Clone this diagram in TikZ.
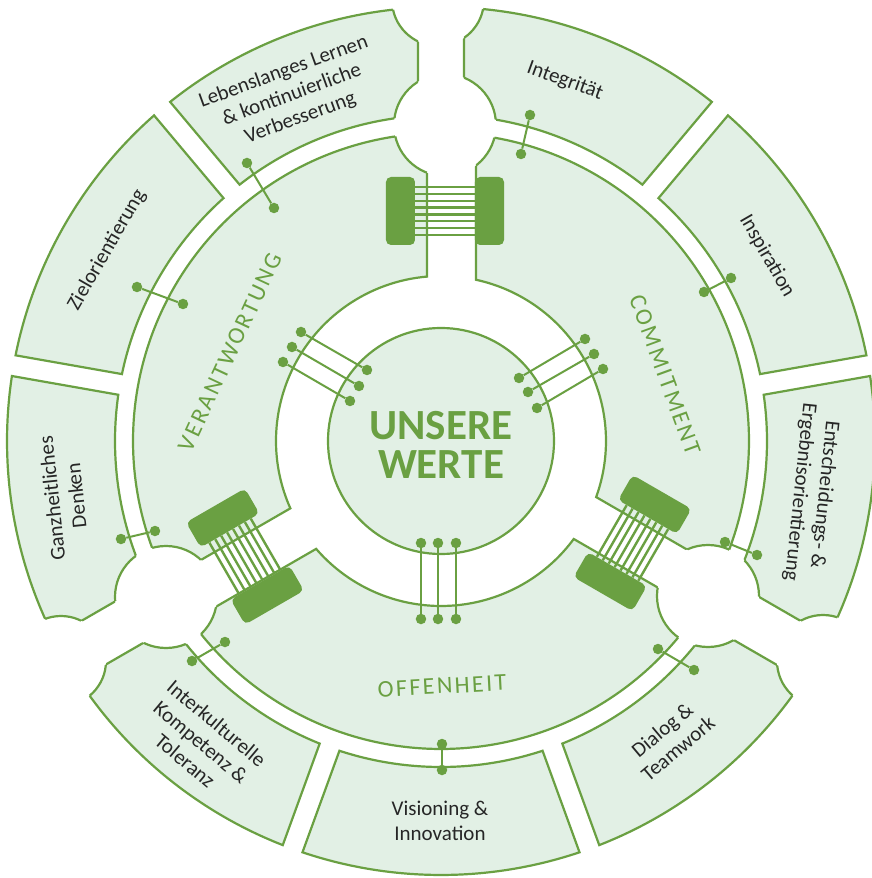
\documentclass[tikz,border=0pt]{standalone}
\usepackage{fontspec}
\setmainfont{Carlito}
\newfontfamily\segfont[LetterSpace=10]{Carlito}
\usetikzlibrary{calc}
\definecolor{grn}{HTML}{6AA042}
\definecolor{lgrn}{HTML}{E2F0E5}
\definecolor{txt}{HTML}{262626}
% ring segment: #1 inner r, #2 outer r, #3 cw gap angle, #4 offset, #5 ccw gap angle, #6 offset
\newcommand\segpath[6]{({#5+asin(#6/#2)}:#2) arc[start angle={#5+asin(#6/#2)}, end angle={#3+asin(#4/#2)}, radius=#2] -- ({#3+asin(#4/#1)}:#1) arc[start angle={#3+asin(#4/#1)}, end angle={#5+asin(#6/#1)}, radius=#1] -- cycle}
\newcommand\SegA{\segpath{326}{434}{50}{10.5}{90}{-23}}
\newcommand\SegB{\segpath{326}{434}{10}{10.5}{50}{-10.5}}
\newcommand\SegC{\segpath{326}{434}{-30}{24}{10}{-10.5}}
\newcommand\SegD{\segpath{326}{434}{-70}{10.5}{-30}{-26}}
\newcommand\SegE{\segpath{326}{434}{-110}{10.5}{-70}{-10.5}}
\newcommand\SegF{\segpath{326}{434}{-150}{26}{-110}{-10.5}}
\newcommand\SegG{\segpath{326}{434}{170}{10.5}{210}{-24}}
\newcommand\SegH{\segpath{326}{434}{130}{10.5}{170}{-10.5}}
\newcommand\SegI{\segpath{326}{434}{90}{23}{130}{-10.5}}
\newcommand\SegJ{\segpath{165}{308}{-30}{29}{90}{-35}}
\newcommand\SegK{\segpath{165}{308}{-150}{31}{-30}{-18.5}}
\newcommand\SegL{\segpath{165}{308}{90}{14}{210}{-17}}
\newcommand\holeset{(4,316) circle[radius=51] (-275,-156) circle[radius=51] (267,-155) circle[radius=51] (-3,441) circle[radius=46] (-380,-220) circle[radius=45] (382,-220) circle[radius=46]}
\newcommand\holeclip[1]{\begin{scope}\clip #1; \draw[holeline] \holeset; \end{scope}}
\begin{document}
\begin{tikzpicture}[x=1pt,y=1pt,
  seg/.style={fill=lgrn, draw=grn, line width=2.2pt},
  holeline/.style={draw=grn, line width=2.2pt},
  conn/.style={draw=grn, line width=2pt},
  pdot/.style={circle, fill=grn, draw=none, inner sep=0pt, minimum size=10.5pt},
  blk/.style={fill=grn, draw=none, rounded corners=5pt, inner sep=0pt, minimum width=29pt, minimum height=68pt},
  plugline/.style={draw=grn, line width=2.4pt},
  lbl/.style={text=txt, font=\fontsize{21}{24.5}\selectfont, align=center, inner sep=0pt},
  seglbl/.style={text=grn, font=\segfont\fontsize{24}{28}\selectfont, inner sep=0pt},
  core/.style={circle, fill=lgrn, draw=grn, line width=2.2pt, minimum size=226pt, inner sep=0pt}]
\useasboundingbox (-441,-437) rectangle (431,441);
\fill[white] (-441,-437) rectangle (431,441);
% segments
\filldraw[seg] \SegA; \filldraw[seg] \SegB; \filldraw[seg] \SegC;
\filldraw[seg] \SegD; \filldraw[seg] \SegE; \filldraw[seg] \SegF;
\filldraw[seg] \SegG; \filldraw[seg] \SegH; \filldraw[seg] \SegI;
\filldraw[seg] \SegJ; \filldraw[seg] \SegK; \filldraw[seg] \SegL;
% holes
\fill[white] \holeset;
\holeclip{\SegA}\holeclip{\SegB}\holeclip{\SegC}\holeclip{\SegD}
\holeclip{\SegE}\holeclip{\SegF}\holeclip{\SegG}\holeclip{\SegH}
\holeclip{\SegI}\holeclip{\SegJ}\holeclip{\SegK}\holeclip{\SegL}
% core
\node[core] (core) at (0,0) {};
\node[text=grn, font=\bfseries\fontsize{43}{39}\selectfont, align=center, inner sep=0pt] (tCore) at (0,-4) {UNSERE\\WERTE};
% plugs
\node[blk] (pTa) at (-40.5,230) {};
\node[blk] (pTb) at (48.5,230) {};
\node[blk, rotate=120] (pLa) at (-173.75,-154.04) {};
\node[blk, rotate=120] (pLb) at (-218.25,-76.96) {};
\node[blk, rotate=-120] (pRa) at (213.75,-63.46) {};
\node[blk, rotate=-120] (pRb) at (169.25,-140.54) {};
\foreach \p in {T,L,R}{
  \foreach \t in {0.15,0.25,0.35,0.45,0.55,0.65,0.75,0.85}{
    \draw[plugline] ($(p\p a.north east)!\t!(p\p a.south east)$) -- ($(p\p b.north west)!\t!(p\p b.south west)$);
  }
}
% outer connectors
\node[pdot] (c1a) at (-194,278) {}; \node[pdot] (c1b) at (-167,233) {};
\node[pdot] (c2a) at (-304,154) {}; \node[pdot] (c2b) at (-258,137) {};
\node[pdot] (c3a) at (89,326) {};   \node[pdot] (c3b) at (80,287) {};
\node[pdot] (c4a) at (290,163) {};  \node[pdot] (c4b) at (263,149) {};
\node[pdot] (c5a) at (-320,-98) {}; \node[pdot] (c5b) at (-286,-90) {};
\node[pdot] (c6a) at (-249,-220) {};\node[pdot] (c6b) at (-216,-201) {};
\node[pdot] (c7a) at (1,-329) {};   \node[pdot] (c7b) at (1,-303) {};
\node[pdot] (c8a) at (253,-229) {}; \node[pdot] (c8b) at (217,-208) {};
\node[pdot] (c9a) at (316,-114) {}; \node[pdot] (c9b) at (284,-101) {};
\foreach \i in {1,...,9}{\draw[conn] (c\i a) -- (c\i b);}
% inner connectors
\node[pdot] (u1a) at (-140,109) {}; \node[pdot] (u1b) at (-74,71) {};
\node[pdot] (u2a) at (-149,94) {};  \node[pdot] (u2b) at (-82,55) {};
\node[pdot] (u3a) at (-158,79) {};  \node[pdot] (u3b) at (-91,40) {};
\node[pdot] (r1a) at (144,102) {};  \node[pdot] (r1b) at (78,63) {};
\node[pdot] (r2a) at (153,87) {};   \node[pdot] (r2b) at (87,49) {};
\node[pdot] (r3a) at (162,72) {};   \node[pdot] (r3b) at (96,33) {};
\node[pdot] (b1a) at (-20,-102) {}; \node[pdot] (b1b) at (-20,-178) {};
\node[pdot] (b2a) at (-3,-102) {};  \node[pdot] (b2b) at (-3,-178) {};
\node[pdot] (b3a) at (15,-102) {};  \node[pdot] (b3b) at (15,-178) {};
\foreach \s in {u,r,b}{\foreach \i in {1,2,3}{\draw[conn] (\s\i a) -- (\s\i b);}}
% segment labels
\node[seglbl, rotate=65] (tVer) at (-211,89) {VERANTWORTUNG};
\node[seglbl, rotate=-70] (tCom) at (224,66) {COMMITMENT};
\node[seglbl, rotate=3] (tOff) at (1,-245) {OFFENHEIT};
% outer labels
\node[lbl, rotate=20] (tLeb) at (-149,346) {Lebenslanges Lernen\\\& kontinuierliche\\Verbesserung};
\node[lbl, rotate=-20] (tInt) at (124,360) {Integrität};
\node[lbl, rotate=-60] (tIns) at (326,185) {Inspiration};
\node[lbl, rotate=60] (tZiel) at (-334,191) {Zielorientierung};
\node[lbl, rotate=96] (tGanz) at (-377,-56) {Ganzheitliches\\Denken};
\node[lbl, rotate=-96] (tEnt) at (371,-52) {Entscheidungs- \&\\Ergebnisorientierung};
\node[lbl, rotate=40] (tDia) at (229,-298) {Dialog \&\\Teamwork};
\node[lbl] (tVis) at (-1,-380) {Visioning \&\\Innovation};
\node[lbl, rotate=-40] (tInk) at (-240,-301) {Interkulturelle\\Kompetenz \&\\Toleranz};
\end{tikzpicture}
\end{document}
